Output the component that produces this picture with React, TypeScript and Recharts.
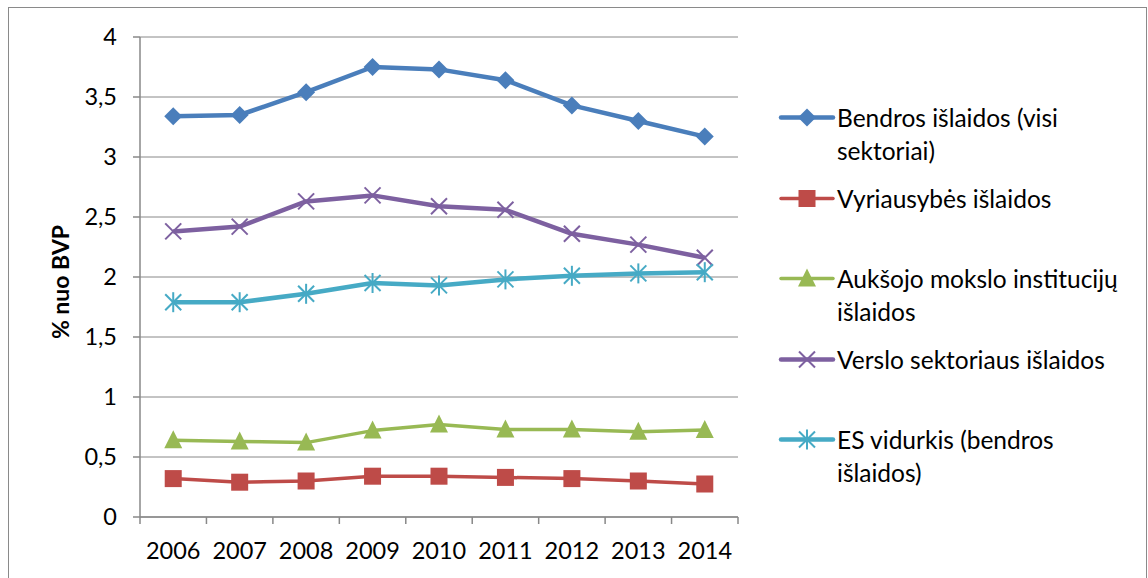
import { LineChart, Line, XAxis, YAxis, CartesianGrid } from 'recharts'

const YEARS = ['2006', '2007', '2008', '2009', '2010', '2011', '2012', '2013', '2014']

const bendros = [3.34, 3.35, 3.54, 3.75, 3.73, 3.64, 3.43, 3.3, 3.17]
const vyriausybes = [0.32, 0.29, 0.3, 0.34, 0.34, 0.33, 0.32, 0.3, 0.275]
const auksojo = [0.64, 0.63, 0.62, 0.72, 0.77, 0.73, 0.73, 0.71, 0.725]
const verslo = [2.38, 2.42, 2.63, 2.68, 2.59, 2.56, 2.36, 2.27, 2.16]
const esVidurkis = [1.79, 1.79, 1.86, 1.95, 1.93, 1.98, 2.01, 2.03, 2.04]

const Y_TICKS = [0, 0.5, 1, 1.5, 2, 2.5, 3, 3.5, 4]

const data = YEARS.map((year, i) => ({
  year,
  bendros: bendros[i],
  vyriausybes: vyriausybes[i],
  auksojo: auksojo[i],
  verslo: verslo[i],
  esVidurkis: esVidurkis[i],
}))

type Shape = 'diamond' | 'square' | 'triangle' | 'cross' | 'star'

const SERIES: { key: string; lines: string[]; color: string; width: number; shape: Shape }[] = [
  { key: 'bendros', lines: ['Bendros išlaidos (visi', 'sektoriai)'], color: '#4a7ebb', width: 4.5, shape: 'diamond' },
  { key: 'vyriausybes', lines: ['Vyriausybės išlaidos'], color: '#be4b48', width: 3.5, shape: 'square' },
  { key: 'auksojo', lines: ['Aukšojo mokslo institucijų', 'išlaidos'], color: '#98b954', width: 3.5, shape: 'triangle' },
  { key: 'verslo', lines: ['Verslo sektoriaus išlaidos'], color: '#7d60a0', width: 4.5, shape: 'cross' },
  { key: 'esVidurkis', lines: ['ES vidurkis (bendros', 'išlaidos)'], color: '#46aac5', width: 4.5, shape: 'star' },
]

const FONT = 'Lato, "Open Sans", sans-serif'
const CHART_W = 1138
const CHART_H = 588
const MARGIN = { top: 29, right: 409, bottom: 29, left: 0 }
const Y_AXIS_W = 131
const HALF_BAND = (CHART_W - MARGIN.left - MARGIN.right - Y_AXIS_W) / YEARS.length / 2

function marker(shape: Shape, color: string, cx: number, cy: number, key?: string) {
  const r = 9
  switch (shape) {
    case 'diamond':
      return <path key={key} d={`M${cx},${cy - r}L${cx + r},${cy}L${cx},${cy + r}L${cx - r},${cy}Z`} fill={color} />
    case 'square':
      return <rect key={key} x={cx - 8.5} y={cy - 8.5} width={17} height={17} fill={color} />
    case 'triangle':
      return <path key={key} d={`M${cx},${cy - 10}L${cx + 9},${cy + 8}L${cx - 9},${cy + 8}Z`} fill={color} />
    case 'cross':
      return (
        <g key={key} stroke={color} strokeWidth={2}>
          <line x1={cx - 8} y1={cy - 8} x2={cx + 8} y2={cy + 8} />
          <line x1={cx - 8} y1={cy + 8} x2={cx + 8} y2={cy - 8} />
        </g>
      )
    default:
      return (
        <g key={key} stroke={color} strokeWidth={2}>
          <line x1={cx - 8} y1={cy - 8} x2={cx + 8} y2={cy + 8} />
          <line x1={cx - 8} y1={cy + 8} x2={cx + 8} y2={cy - 8} />
          <line x1={cx} y1={cy - 10} x2={cx} y2={cy + 10} />
        </g>
      )
  }
}

const makeDot = (shape: Shape, color: string) => (props: any) => {
  const { cx, cy, index } = props
  if (cx == null || cy == null) return <g key={index} />
  return marker(shape, color, cx, cy, `dot-${index}`)
}

function YearTick(props: any) {
  const { x, y, payload, index } = props
  const last = index === YEARS.length - 1
  return (
    <g>
      <line x1={x - HALF_BAND} y1={y} x2={x - HALF_BAND} y2={y + 7} stroke="#888" strokeWidth={1.5} />
      {last && <line x1={x + HALF_BAND} y1={y} x2={x + HALF_BAND} y2={y + 7} stroke="#888" strokeWidth={1.5} />}
      <text x={x} y={y + 34} dy="0.36em" textAnchor="middle" fontSize={23.5} fontFamily={FONT} fill="#000">
        {payload.value}
      </text>
    </g>
  )
}

function YLabel(props: any) {
  const { viewBox } = props
  const x = viewBox.x + 51
  const y = viewBox.y + viewBox.height / 2 + 5
  return (
    <text
      x={x}
      y={y}
      transform={`rotate(-90, ${x}, ${y})`}
      textAnchor="middle"
      dominantBaseline="central"
      fontSize={23}
      fontWeight="bold"
      fontFamily={FONT}
      fill="#000"
    >
      % nuo BVP
    </text>
  )
}

function ChartLegend() {
  return (
    <div style={{ position: 'absolute', left: 769, top: 93, fontFamily: FONT, fontSize: 24.5, color: '#000' }}>
      {SERIES.map((s) => (
        <div key={s.key} style={{ display: 'flex', height: 80.5, lineHeight: '33px' }}>
          <svg width={59} height={33} style={{ flex: 'none' }}>
            <line x1={3} y1={16.5} x2={55} y2={16.5} stroke={s.color} strokeWidth={s.width} strokeLinecap="round" />
            {marker(s.shape, s.color, 29, 16.5)}
          </svg>
          <div>
            {s.lines.map((l) => (
              <div key={l} style={{ whiteSpace: 'nowrap' }}>
                {l}
              </div>
            ))}
          </div>
        </div>
      ))}
    </div>
  )
}

export default function App() {
  return (
    <div
      style={{
        position: 'fixed',
        left: 8,
        top: 7,
        width: 1139,
        height: 590,
        border: '1px solid #8a8a8a',
        boxSizing: 'border-box',
        background: '#fff',
      }}
    >
      <LineChart width={CHART_W} height={CHART_H} data={data} margin={MARGIN}>
        <CartesianGrid vertical={false} stroke="#888" strokeWidth={1} />
        <XAxis
          dataKey="year"
          scale="band"
          height={50}
          axisLine={{ stroke: '#888', strokeWidth: 1.5 }}
          tickLine={false}
          tickSize={0}
          tickMargin={0}
          tick={<YearTick />}
          interval={0}
        />
        <YAxis
          width={Y_AXIS_W}
          domain={[0, 4]}
          ticks={Y_TICKS}
          interval={0}
          axisLine={{ stroke: '#888', strokeWidth: 1.5 }}
          tickLine={{ stroke: '#888', strokeWidth: 1.5 }}
          tickSize={7}
          tickMargin={16}
          tickFormatter={(v: number) => String(v).replace('.', ',')}
          tick={{ fontSize: 23.5, fontFamily: FONT, fill: '#000' }}
          label={<YLabel />}
        />
        {SERIES.map((s) => (
          <Line
            key={s.key}
            dataKey={s.key}
            name={s.lines.join(' ')}
            stroke={s.color}
            strokeWidth={s.width}
            strokeLinejoin="round"
            dot={makeDot(s.shape, s.color)}
            activeDot={false}
            isAnimationActive={false}
          />
        ))}
      </LineChart>
      <ChartLegend />
    </div>
  )
}
